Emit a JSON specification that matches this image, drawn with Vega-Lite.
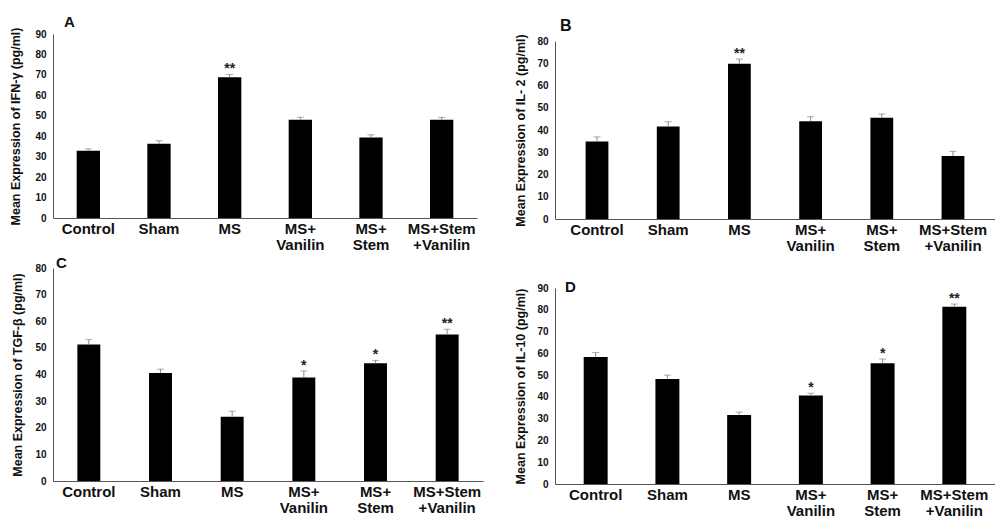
{
  "$schema": "https://vega.github.io/schema/vega-lite/v6.json",
  "padding": {"left": 9, "top": 15, "right": 0, "bottom": 0},
  "background": "white",
  "config": {
    "font": "Liberation Sans",
    "view": {"stroke": null},
    "axis": {"grid": false, "ticks": false, "tickSize": 0, "domainColor": "#555555", "labelColor": "#111111", "titleColor": "#111111", "labelFontWeight": "bold", "titleFontWeight": "bold", "labelOverlap": false},
    "axisX": {"labelAngle": 0, "labelFontSize": 15, "labelLineHeight": 16, "labelPadding": 3, "title": null, "labelExpr": "split(datum.label, ' ')"},
    "axisY": {"labelFontSize": 10, "labelPadding": 7, "titleFontSize": 12.5, "titlePadding": 10},
    "title": {"anchor": "start", "frame": "group", "fontSize": 15, "fontWeight": "bold", "color": "#111111"}
  },
  "datasets": {
    "vals": [
      {"panel": "A", "group": "Control", "value": 32.9, "err": 0.9, "sig": ""},
      {"panel": "A", "group": "Sham", "value": 36.3, "err": 1.5, "sig": ""},
      {"panel": "A", "group": "MS", "value": 68.9, "err": 1.3, "sig": "**"},
      {"panel": "A", "group": "MS+ Vanilin", "value": 48.0, "err": 1.3, "sig": ""},
      {"panel": "A", "group": "MS+ Stem", "value": 39.4, "err": 1.3, "sig": ""},
      {"panel": "A", "group": "MS+Stem +Vanilin", "value": 48.0, "err": 1.2, "sig": ""},
      {"panel": "B", "group": "Control", "value": 34.8, "err": 2.1, "sig": ""},
      {"panel": "B", "group": "Sham", "value": 41.6, "err": 2.1, "sig": ""},
      {"panel": "B", "group": "MS", "value": 69.8, "err": 2.1, "sig": "**"},
      {"panel": "B", "group": "MS+ Vanilin", "value": 43.9, "err": 2.1, "sig": ""},
      {"panel": "B", "group": "MS+ Stem", "value": 45.5, "err": 1.7, "sig": ""},
      {"panel": "B", "group": "MS+Stem +Vanilin", "value": 28.3, "err": 2.1, "sig": ""},
      {"panel": "C", "group": "Control", "value": 51.3, "err": 1.8, "sig": ""},
      {"panel": "C", "group": "Sham", "value": 40.6, "err": 1.4, "sig": ""},
      {"panel": "C", "group": "MS", "value": 24.1, "err": 2.1, "sig": ""},
      {"panel": "C", "group": "MS+ Vanilin", "value": 38.9, "err": 2.4, "sig": "*"},
      {"panel": "C", "group": "MS+ Stem", "value": 44.2, "err": 1.1, "sig": "*"},
      {"panel": "C", "group": "MS+Stem +Vanilin", "value": 55.0, "err": 2.0, "sig": "**"},
      {"panel": "D", "group": "Control", "value": 58.3, "err": 2.1, "sig": ""},
      {"panel": "D", "group": "Sham", "value": 48.2, "err": 1.8, "sig": ""},
      {"panel": "D", "group": "MS", "value": 31.7, "err": 1.3, "sig": ""},
      {"panel": "D", "group": "MS+ Vanilin", "value": 40.6, "err": 1.1, "sig": "*"},
      {"panel": "D", "group": "MS+ Stem", "value": 55.4, "err": 2.0, "sig": "*"},
      {"panel": "D", "group": "MS+Stem +Vanilin", "value": 81.4, "err": 1.2, "sig": "**"}
    ]
  },
  "hconcat": [
    {
      "vconcat": [
        {
          "data": {"name": "vals"},
          "width": 424, "height": 184,
          "title": {"text": "A", "offset": -3, "dx": 11},
          "transform": [{"filter": "datum.panel == 'A'"}, {"calculate": "datum.value + datum.err", "as": "hi"}],
          "encoding": {"x": {"field": "group", "type": "nominal", "sort": null, "scale": {"paddingInner": 0.67, "paddingOuter": 0.335}}},
          "layer": [
            {"mark": {"type": "bar", "color": "black"}, "encoding": {"y": {"field": "value", "type": "quantitative", "scale": {"domain": [0, 90]}, "axis": {"values": [0,10,20,30,40,50,60,70,80,90], "title": "Mean Expression of IFN-γ (pg/ml)", "titlePadding": 12}}}},
            {"mark": {"type": "rule", "color": "#888888"}, "encoding": {"y": {"field": "value", "type": "quantitative", "axis": {"values": [0,10,20,30,40,50,60,70,80,90], "title": "Mean Expression of IFN-γ (pg/ml)", "titlePadding": 12}}, "y2": {"field": "hi"}}},
            {"mark": {"type": "tick", "color": "#888888", "size": 7, "thickness": 1}, "encoding": {"y": {"field": "hi", "type": "quantitative", "axis": {"values": [0,10,20,30,40,50,60,70,80,90], "title": "Mean Expression of IFN-γ (pg/ml)", "titlePadding": 12}}}},
            {"mark": {"type": "text", "fontSize": 14, "fontWeight": "bold", "baseline": "alphabetic", "dy": -1, "color": "#222222"}, "encoding": {"y": {"field": "hi", "type": "quantitative", "axis": {"values": [0,10,20,30,40,50,60,70,80,90], "title": "Mean Expression of IFN-γ (pg/ml)", "titlePadding": 12}}, "text": {"field": "sig"}}}
          ]
        },
        {
          "data": {"name": "vals"},
          "width": 430, "height": 213,
          "title": {"text": "C", "offset": -8, "dx": 3},
          "transform": [{"filter": "datum.panel == 'C'"}, {"calculate": "datum.value + datum.err", "as": "hi"}],
          "encoding": {"x": {"field": "group", "type": "nominal", "sort": null, "scale": {"paddingInner": 0.68, "paddingOuter": 0.34}}},
          "layer": [
            {"mark": {"type": "bar", "color": "black"}, "encoding": {"y": {"field": "value", "type": "quantitative", "scale": {"domain": [0, 80]}, "axis": {"values": [0,10,20,30,40,50,60,70,80], "title": "Mean Expression of TGF-β (pg/ml)"}}}},
            {"mark": {"type": "rule", "color": "#888888"}, "encoding": {"y": {"field": "value", "type": "quantitative", "axis": {"values": [0,10,20,30,40,50,60,70,80], "title": "Mean Expression of TGF-β (pg/ml)"}}, "y2": {"field": "hi"}}},
            {"mark": {"type": "tick", "color": "#888888", "size": 7, "thickness": 1}, "encoding": {"y": {"field": "hi", "type": "quantitative", "axis": {"values": [0,10,20,30,40,50,60,70,80], "title": "Mean Expression of TGF-β (pg/ml)"}}}},
            {"mark": {"type": "text", "fontSize": 14, "fontWeight": "bold", "baseline": "alphabetic", "dy": -1, "color": "#222222"}, "encoding": {"y": {"field": "hi", "type": "quantitative", "axis": {"values": [0,10,20,30,40,50,60,70,80], "title": "Mean Expression of TGF-β (pg/ml)"}}, "text": {"field": "sig"}}}
          ]
        }
      ],
      "spacing": 4
    },
    {
      "vconcat": [
        {
          "data": {"values": []},
          "width": 440, "height": 1,
          "mark": {"type": "point", "opacity": 0}
        },
        {
          "vconcat": [
            {
              "data": {"name": "vals"},
              "width": 440, "height": 178,
              "title": {"text": "B", "offset": 0, "dx": 5, "fontSize": 16},
              "transform": [{"filter": "datum.panel == 'B'"}, {"calculate": "datum.value + datum.err", "as": "hi"}],
              "encoding": {"x": {"field": "group", "type": "nominal", "sort": null, "scale": {"paddingInner": 0.68, "paddingOuter": 0.43}}},
              "layer": [
                {"mark": {"type": "bar", "color": "black"}, "encoding": {"y": {"field": "value", "type": "quantitative", "scale": {"domain": [0, 80]}, "axis": {"values": [0,10,20,30,40,50,60,70,80], "title": "Mean Expression of IL- 2 (pg/ml)", "titlePadding": 9}}}},
                {"mark": {"type": "rule", "color": "#888888"}, "encoding": {"y": {"field": "value", "type": "quantitative", "axis": {"values": [0,10,20,30,40,50,60,70,80], "title": "Mean Expression of IL- 2 (pg/ml)", "titlePadding": 9}}, "y2": {"field": "hi"}}},
                {"mark": {"type": "tick", "color": "#888888", "size": 7, "thickness": 1}, "encoding": {"y": {"field": "hi", "type": "quantitative", "axis": {"values": [0,10,20,30,40,50,60,70,80], "title": "Mean Expression of IL- 2 (pg/ml)", "titlePadding": 9}}}},
                {"mark": {"type": "text", "fontSize": 14, "fontWeight": "bold", "baseline": "alphabetic", "dy": -1, "color": "#222222"}, "encoding": {"y": {"field": "hi", "type": "quantitative", "axis": {"values": [0,10,20,30,40,50,60,70,80], "title": "Mean Expression of IL- 2 (pg/ml)", "titlePadding": 9}}, "text": {"field": "sig"}}}
              ]
            },
            {
              "data": {"name": "vals"},
              "width": 440, "height": 196,
              "title": {"text": "D", "offset": -12, "dx": 10},
              "transform": [{"filter": "datum.panel == 'D'"}, {"calculate": "datum.value + datum.err", "as": "hi"}],
              "encoding": {"x": {"field": "group", "type": "nominal", "sort": null, "scale": {"paddingInner": 0.666, "paddingOuter": 0.4}}},
              "layer": [
                {"mark": {"type": "bar", "color": "black"}, "encoding": {"y": {"field": "value", "type": "quantitative", "scale": {"domain": [0, 90]}, "axis": {"values": [0,10,20,30,40,50,60,70,80,90], "title": "Mean Expression of IL-10 (pg/ml)", "titlePadding": 9}}}},
                {"mark": {"type": "rule", "color": "#888888"}, "encoding": {"y": {"field": "value", "type": "quantitative", "axis": {"values": [0,10,20,30,40,50,60,70,80,90], "title": "Mean Expression of IL-10 (pg/ml)", "titlePadding": 9}}, "y2": {"field": "hi"}}},
                {"mark": {"type": "tick", "color": "#888888", "size": 7, "thickness": 1}, "encoding": {"y": {"field": "hi", "type": "quantitative", "axis": {"values": [0,10,20,30,40,50,60,70,80,90], "title": "Mean Expression of IL-10 (pg/ml)", "titlePadding": 9}}}},
                {"mark": {"type": "text", "fontSize": 14, "fontWeight": "bold", "baseline": "alphabetic", "dy": -1, "color": "#222222"}, "encoding": {"y": {"field": "hi", "type": "quantitative", "axis": {"values": [0,10,20,30,40,50,60,70,80,90], "title": "Mean Expression of IL-10 (pg/ml)", "titlePadding": 9}}, "text": {"field": "sig"}}}
              ]
            }
          ],
          "spacing": 27
        }
      ],
      "spacing": -18
    }
  ],
  "spacing": 31
}
